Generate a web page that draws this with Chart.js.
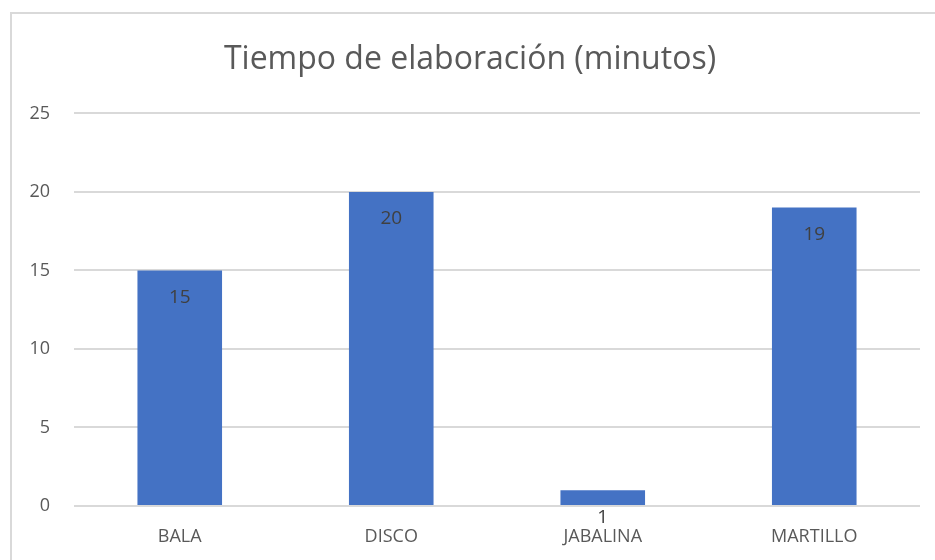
<!DOCTYPE html>
<html>
<head>
<meta charset="utf-8">
<script src="https://cdn.jsdelivr.net/npm/chart.js@4"></script>
<style>
  body { margin: 0; background: #fff; }
  #wrap { position: relative; width: 935px; height: 560px; }
</style>
</head>
<body>
<div id="wrap"><canvas id="myBarChart"></canvas></div>
<script>
// datos del grafico
var categorias = ['BALA', 'DISCO', 'JABALINA', 'MARTILLO'];
var tiempos = [15, 20, 1, 19];
var titulo = 'Tiempo de elaboración (minutos)';

// marco del grafico (solo izquierda y arriba se ven)
var marco = {
    id: 'marco',
    beforeDraw: function (chart) {
        var ctx = chart.ctx;
        ctx.save();
        ctx.strokeStyle = '#d9d9d9';
        ctx.lineWidth = 2;
        ctx.beginPath();
        ctx.moveTo(11, 560);
        ctx.lineTo(11, 13);
        ctx.lineTo(935, 13);
        ctx.stroke();
        ctx.restore();
    }
};

// etiquetas de datos dentro del extremo de la barra
var etiquetas = {
    id: 'etiquetas',
    afterDatasetsDraw: function (chart) {
        var ctx = chart.ctx;
        var meta = chart.getDatasetMeta(0);
        ctx.save();
        ctx.font = '19px "Open Sans"';
        ctx.fillStyle = '#404040';
        ctx.textAlign = 'center';
        ctx.textBaseline = 'middle';
        meta.data.forEach(function (bar, i) {
            ctx.fillText(tiempos[i], bar.x, bar.y + 27);
        });
        ctx.restore();
    }
};

var ctx = document.getElementById('myBarChart').getContext('2d');
var myBarChart = new Chart(ctx, {
    type: 'bar',
    data: {
        labels: categorias,
        datasets: [{
            label: titulo,
            data: tiempos,
            backgroundColor: '#4472c4',
            categoryPercentage: 1,
            barPercentage: 0.4
        }]
    },
    options: {
        responsive: true,
        maintainAspectRatio: false,
        animation: false,
        layout: { padding: { left: 20, right: 15, top: 0, bottom: 0 } },
        plugins: {
            legend: { display: false },
            tooltip: { enabled: false },
            title: {
                display: true,
                text: titulo,
                color: '#595959',
                font: { family: 'Open Sans', size: 32, weight: 'normal' },
                padding: { top: 41, bottom: 34 }
            }
        },
        scales: {
            x: {
                grid: { display: false, drawTicks: false },
                border: { display: false },
                ticks: {
                    color: '#595959',
                    font: { family: 'Open Sans', size: 18 },
                    padding: 20
                },
                afterFit: function (scale) { scale.height = 54; }
            },
            y: {
                min: 0,
                max: 25,
                ticks: {
                    stepSize: 5,
                    color: '#595959',
                    font: { family: 'Open Sans', size: 18 },
                    padding: 24
                },
                grid: { color: '#d9d9d9', lineWidth: 2, drawTicks: false },
                border: { display: false },
                afterFit: function (scale) { scale.width = 54; }
            }
        }
    },
    plugins: [marco, etiquetas]
});
</script>
</body>
</html>
